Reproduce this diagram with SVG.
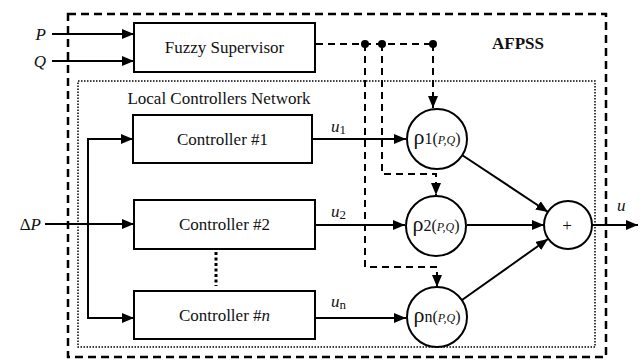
<svg xmlns="http://www.w3.org/2000/svg" width="643" height="360" viewBox="0 0 643 360">
<defs>
<marker id="ah" markerWidth="12" markerHeight="10" refX="12" refY="5" orient="auto" markerUnits="userSpaceOnUse">
<path d="M0,0 L12,5 L0,10 z" fill="#000"/>
</marker>
<style>
text{font-family:'Liberation Serif','Times New Roman',serif;font-size:17px;fill:#111}
.i{font-style:italic}
.box{fill:#fff;stroke:#000;stroke-width:2}
.ln{fill:none;stroke:#000;stroke-width:2}
.ds{fill:none;stroke:#000;stroke-width:2;stroke-dasharray:7 5}
.circ{fill:#fff;stroke:#000;stroke-width:2}
</style>
</defs>
<rect x="0" y="0" width="643" height="360" fill="#fff"/>
<g id="afpss">
<rect x="68" y="14" width="538" height="343" fill="none" stroke="#000" stroke-width="2.5" stroke-dasharray="8 5"/>
<text x="518" y="49" text-anchor="middle" font-weight="bold">AFPSS</text>
</g>
<g id="lcn">
<rect x="78" y="81" width="517" height="266" fill="none" stroke="#000" stroke-width="1.5" stroke-dasharray="1.5 1.5"/>
<text x="219" y="104" text-anchor="middle">Local Controllers Network</text>
</g>
<g id="inputs">
<text class="i" x="46" y="40" text-anchor="end">P</text>
<text class="i" x="46" y="67" text-anchor="end">Q</text>
<text x="41" y="230" text-anchor="end">Δ<tspan class="i">P</tspan></text>
</g>
<g id="connectors">
<line class="ln" x1="52" y1="34" x2="134" y2="34" marker-end="url(#ah)"/>
<line class="ln" x1="52" y1="61" x2="134" y2="61" marker-end="url(#ah)"/>
<line class="ln" x1="45" y1="224" x2="134" y2="224" marker-end="url(#ah)"/>
<polyline class="ln" points="133,139 88,139 88,318 134,318" marker-end="url(#ah)"/>
<line class="ln" x1="88" y1="139" x2="133" y2="139" marker-end="url(#ah)"/>
<line class="ln" x1="312" y1="139" x2="406" y2="139" marker-end="url(#ah)"/>
<line class="ln" x1="315" y1="225" x2="405" y2="225" marker-end="url(#ah)"/>
<line class="ln" x1="315" y1="318" x2="406" y2="318" marker-end="url(#ah)"/>
<line class="ln" x1="462" y1="155" x2="548" y2="212" marker-end="url(#ah)"/>
<line class="ln" x1="467" y1="225" x2="544" y2="225" marker-end="url(#ah)"/>
<line class="ln" x1="462" y1="300" x2="548" y2="239" marker-end="url(#ah)"/>
<line class="ln" x1="592" y1="225" x2="638" y2="225" marker-end="url(#ah)"/>
<line x1="216" y1="252" x2="216" y2="286" stroke="#000" stroke-width="3" stroke-dasharray="3 2.5"/>
<polyline class="ds" points="316,44 433,44"/>
<polyline class="ds" points="433,44 433,108" marker-end="url(#ah)"/>
<polyline class="ds" points="382,44 382,174 436,174 436,195" marker-end="url(#ah)"/>
<polyline class="ds" points="365,44 365,267 437,267 437,287" marker-end="url(#ah)"/>
<circle cx="365" cy="44" r="4"/>
<circle cx="382" cy="44" r="4"/>
<circle cx="433" cy="44" r="4"/>
<text class="i" x="331" y="132" font-size="18">u<tspan font-size="13" font-style="normal" dy="2">1</tspan></text>
<text class="i" x="331" y="217" font-size="18">u<tspan font-size="13" font-style="normal" dy="2">2</tspan></text>
<text class="i" x="331" y="307" font-size="18">u<tspan font-size="13" font-style="normal" dy="2">n</tspan></text>
<text class="i" x="617" y="211" font-size="18">u</text>
</g>
<g id="fuzzy">
<rect class="box" x="134" y="23" width="181" height="49"/>
<text x="224.5" y="53" text-anchor="middle">Fuzzy Supervisor</text>
</g>
<g id="c1">
<rect class="box" x="133" y="115" width="179" height="48"/>
<text x="222.5" y="145" text-anchor="middle">Controller #1</text>
</g>
<g id="c2">
<rect class="box" x="134" y="200" width="181" height="49"/>
<text x="224.5" y="230" text-anchor="middle">Controller #2</text>
</g>
<g id="cn">
<rect class="box" x="134" y="291" width="181" height="48"/>
<text x="224.5" y="321" text-anchor="middle">Controller #<tspan class="i">n</tspan></text>
</g>
<g id="rho1">
<circle class="circ" cx="437" cy="139" r="30"/>
<text x="437" y="144" text-anchor="middle"><tspan font-size="22">ρ</tspan><tspan font-size="16">1(</tspan><tspan font-size="12" class="i">P,Q</tspan><tspan font-size="16">)</tspan></text>
</g>
<g id="rho2">
<circle class="circ" cx="436" cy="226" r="30"/>
<text x="436" y="231" text-anchor="middle"><tspan font-size="22">ρ</tspan><tspan font-size="16">2(</tspan><tspan font-size="12" class="i">P,Q</tspan><tspan font-size="16">)</tspan></text>
</g>
<g id="rhon">
<circle class="circ" cx="437" cy="317" r="30"/>
<text x="437" y="322" text-anchor="middle"><tspan font-size="22">ρ</tspan><tspan font-size="16">n(</tspan><tspan font-size="12" class="i">P,Q</tspan><tspan font-size="16">)</tspan></text>
</g>
<g id="sum">
<circle class="circ" cx="568" cy="225" r="24"/>
<text x="567" y="231" text-anchor="middle" font-size="20">+</text>
</g>
</svg>
